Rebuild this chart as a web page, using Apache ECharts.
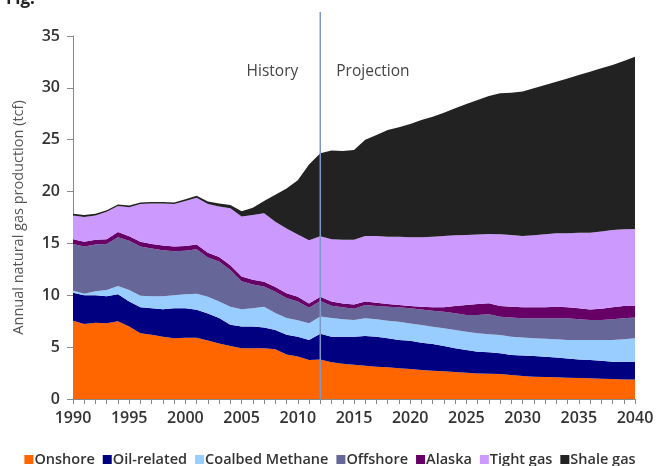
<!DOCTYPE html>
<html>
<head>
<meta charset="utf-8">
<script src="https://cdn.jsdelivr.net/npm/echarts@6/dist/echarts.min.js"></script>
<style>
  html, body { margin: 0; padding: 0; background: #fff; }
  #chart { width: 660px; height: 466px; }
</style>
</head>
<body>
<div id="chart"></div>
<script>
// Annual US natural gas production by source, tcf (history to 2012, projection after)
const years = [];
for (let y = 1990; y <= 2040; y++) years.push(String(y));

const onshore = [7.55,7.23,7.36,7.30,7.50,7.00,6.35,6.20,6.00,5.85,5.90,5.90,5.65,5.36,5.10,4.90,4.90,4.90,4.80,4.30,4.10,3.76,3.80,3.55,3.40,3.30,3.20,3.12,3.05,2.96,2.89,2.80,2.73,2.67,2.60,2.54,2.47,2.43,2.40,2.31,2.22,2.15,2.12,2.09,2.05,2.02,1.99,1.96,1.92,1.89,1.88];
const oilRelated = [2.70,2.77,2.64,2.60,2.60,2.40,2.50,2.55,2.65,2.90,2.85,2.70,2.60,2.44,2.05,2.10,2.10,2.00,1.85,1.90,1.90,1.94,2.50,2.45,2.60,2.70,2.87,2.88,2.80,2.73,2.73,2.63,2.57,2.44,2.29,2.19,2.09,2.07,2.00,1.93,1.98,1.99,1.96,1.92,1.86,1.80,1.76,1.73,1.68,1.71,1.72];
const coalbed = [0.20,0.15,0.40,0.60,0.80,1.10,1.10,1.15,1.25,1.25,1.35,1.55,1.60,1.60,1.75,1.65,1.75,2.00,1.65,1.60,1.60,1.60,1.65,1.80,1.70,1.62,1.71,1.68,1.70,1.76,1.67,1.70,1.67,1.70,1.76,1.76,1.77,1.75,1.77,1.77,1.74,1.71,1.72,1.74,1.78,1.87,1.94,2.00,2.09,2.15,2.25];
const offshore = [4.50,4.55,4.50,4.45,4.70,4.75,4.75,4.60,4.45,4.25,4.20,4.30,3.80,3.85,3.55,2.70,2.30,1.95,2.05,1.95,1.80,1.50,1.50,1.20,1.15,1.08,1.28,1.29,1.35,1.39,1.45,1.51,1.54,1.61,1.61,1.61,1.77,1.91,1.77,1.86,1.84,1.93,1.98,2.03,2.09,1.99,1.93,1.93,2.01,2.03,2.02];
const alaska = [0.45,0.45,0.45,0.45,0.50,0.45,0.45,0.45,0.45,0.45,0.45,0.45,0.45,0.45,0.45,0.45,0.45,0.45,0.45,0.45,0.45,0.40,0.40,0.40,0.35,0.40,0.33,0.32,0.26,0.22,0.23,0.26,0.33,0.42,0.71,0.96,1.06,1.07,1.03,1.03,1.06,1.06,1.06,1.12,1.06,1.06,1.02,1.08,1.14,1.19,1.10];
const tightGas = [2.30,2.40,2.35,2.65,2.50,2.80,3.65,3.90,4.05,4.10,4.35,4.50,4.70,4.85,5.50,5.80,6.25,6.60,6.30,6.25,6.00,6.10,5.85,6.00,6.15,6.25,6.33,6.43,6.49,6.59,6.62,6.69,6.81,6.88,6.81,6.76,6.69,6.68,6.91,6.92,6.88,6.96,7.04,7.07,7.13,7.30,7.40,7.44,7.46,7.39,7.43];
const shaleGas = [0.15,0.20,0.15,0.15,0.15,0.15,0.15,0.15,0.15,0.15,0.15,0.20,0.25,0.30,0.30,0.50,0.70,1.20,2.60,3.85,5.25,7.30,8.00,8.55,8.55,8.65,9.27,9.74,10.29,10.55,10.93,11.31,11.57,11.88,12.25,12.62,12.98,13.31,13.60,13.72,13.92,14.16,14.40,14.63,14.93,15.20,15.52,15.74,15.90,16.24,16.60];

const yTicks = { min: 0, max: 35, step: 5 };
const divideYear = '2012';

const sources = [
  { name: 'Onshore',          data: onshore,    color: '#ff6600' },
  { name: 'Oil-related',      data: oilRelated, color: '#000080' },
  { name: 'Coalbed Methane',  data: coalbed,    color: '#99ccff' },
  { name: 'Offshore',         data: offshore,   color: '#666699' },
  { name: 'Alaska',           data: alaska,     color: '#660066' },
  { name: 'Tight gas',        data: tightGas,   color: '#cc99ff' },
  { name: 'Shale gas',        data: shaleGas,   color: '#222222' }
];

const chart = echarts.init(document.getElementById('chart'), null, { renderer: 'canvas' });
const font = 'Open Sans, Liberation Sans, sans-serif';

chart.setOption({
  animation: false,
  backgroundColor: '#fff',
  title: {
    text: 'Fig.', left: 1, top: -14,
    textStyle: { fontFamily: font, fontSize: 17, fontWeight: 'bold', color: '#222' }
  },
  grid: { left: 73, right: 25, top: 36, bottom: 67 },
  legend: {
    data: sources.map(s => s.name),
    left: 'center', top: 447,
    icon: 'rect', itemWidth: 9, itemHeight: 9, itemGap: 8,
    textStyle: { fontFamily: font, fontSize: 14.5, fontWeight: 600, color: '#333', padding: [0, 0, 0, -4] }
  },
  xAxis: {
    type: 'category',
    data: years,
    boundaryGap: false,
    axisLine: { lineStyle: { color: '#8a8a8a', width: 1 } },
    axisTick: { interval: 0, length: 5, lineStyle: { color: '#8a8a8a' } },
    axisLabel: { interval: 4, margin: 11, fontFamily: font, fontSize: 16, fontWeight: 600, color: '#333' },
    splitLine: { show: false }
  },
  yAxis: {
    type: 'value',
    min: yTicks.min, max: yTicks.max, interval: yTicks.step,
    name: 'Annual natural gas production (tcf)',
    nameLocation: 'middle', nameGap: 47, nameRotate: 90,
    nameTextStyle: { fontFamily: font, fontSize: 14.5, color: '#555' },
    axisLine: { show: true, lineStyle: { color: '#8a8a8a', width: 1 } },
    axisTick: { show: true, length: 6, lineStyle: { color: '#8a8a8a' } },
    axisLabel: { margin: 13, fontFamily: font, fontSize: 16, fontWeight: 600, color: '#333' },
    splitLine: { show: false }
  },
  series: sources.map(s => ({
    name: s.name,
    type: 'line',
    stack: 'total',
    data: s.data,
    symbol: 'none',
    lineStyle: { width: 0 },
    areaStyle: { color: s.color, opacity: 1 },
    itemStyle: { color: s.color }
  }))
});

// History / Projection divider at 2012
const xDiv = chart.convertToPixel({ xAxisIndex: 0 }, divideYear);
const yBase = chart.convertToPixel({ yAxisIndex: 0 }, 0);
const yTop = chart.convertToPixel({ yAxisIndex: 0 }, yTicks.max) - 24;
chart.setOption({
  graphic: [
    { type: 'line', z: 100, shape: { x1: xDiv, y1: yTop, x2: xDiv, y2: yBase },
      style: { stroke: '#7d97c9', lineWidth: 1.5 } },
    { type: 'text', z: 100, x: xDiv - 22, y: 72,
      style: { text: 'History', align: 'right', verticalAlign: 'middle', fill: '#444',
               font: '15.5px ' + font } },
    { type: 'text', z: 100, x: xDiv + 16, y: 72,
      style: { text: 'Projection', align: 'left', verticalAlign: 'middle', fill: '#444',
               font: '15.5px ' + font } }
  ]
});
</script>
</body>
</html>
